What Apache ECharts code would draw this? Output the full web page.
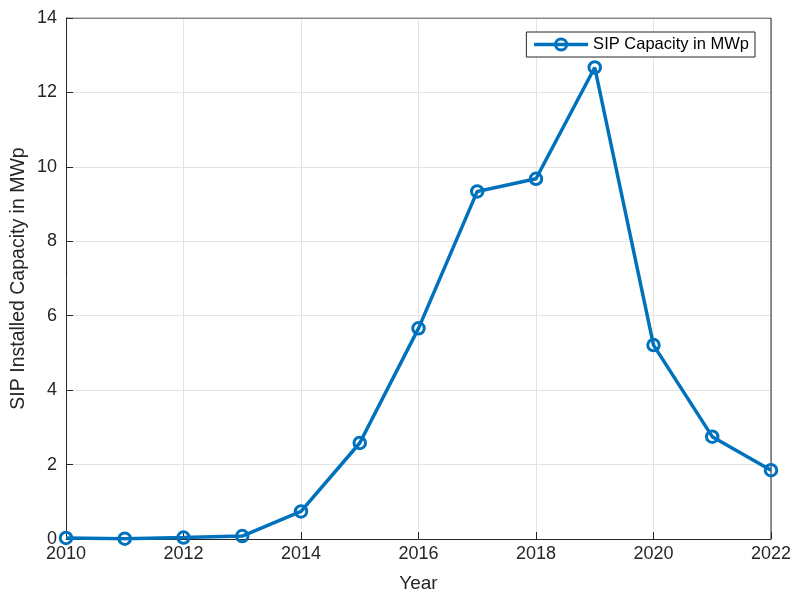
<!DOCTYPE html>
<html>
<head>
<meta charset="utf-8">
<title>SIP Capacity</title>
<script src="https://cdn.jsdelivr.net/npm/echarts@6/dist/echarts.min.js"></script>
<style>
  html, body { margin: 0; padding: 0; background: #fff; }
  #main { width: 792px; height: 596px; }
</style>
</head>
<body>
<div id="main"></div>
<script>
// data
var years = [2010, 2011, 2012, 2013, 2014, 2015, 2016, 2017, 2018, 2019, 2020, 2021, 2022];
var capacity = [0.03, 0.01, 0.04, 0.08, 0.74, 2.58, 5.66, 9.34, 9.68, 12.67, 5.21, 2.75, 1.85];
var seriesName = 'SIP Capacity in MWp';

var blue = '#0072BD';
var font = 'Liberation Sans, Arial, Helvetica, sans-serif';

var chart = echarts.init(document.getElementById('main'));

var points = years.map(function (y, i) { return [y, capacity[i]]; });

chart.setOption({
  animation: false,
  backgroundColor: '#fff',
  grid: { left: 66, right: 21, top: 18, bottom: 57, containLabel: false, outerBoundsMode: 'none' },
  legend: {
    right: 37,
    top: 32,
    orient: 'vertical',
    backgroundColor: '#fff',
    borderColor: '#262626',
    borderWidth: 1,
    borderRadius: 0,
    padding: [4, 6, 4, 6],
    itemWidth: 54,
    itemHeight: 14,
    itemGap: 4,
    lineStyle: { width: 3.5 },
    itemStyle: { borderWidth: 3 },
    textStyle: { fontFamily: font, fontSize: 16.5, color: '#000' },
    data: [seriesName]
  },
  xAxis: {
    type: 'value',
    min: 2010,
    max: 2022,
    interval: 2,
    name: 'Year',
    nameLocation: 'middle',
    nameGap: 35,
    nameMoveOverlap: false,
    nameTextStyle: { fontFamily: font, fontSize: 19, color: '#262626' },
    axisLine: { show: true, onZero: false, lineStyle: { color: '#262626', width: 1 } },
    axisTick: { show: true, inside: true, length: 7, lineStyle: { color: '#262626' } },
    axisLabel: { fontFamily: font, fontSize: 18, color: '#262626', margin: 6, formatter: function (v) { return String(v); } },
    splitLine: { show: true, lineStyle: { color: '#e3e3e3', width: 1 } }
  },
  yAxis: {
    type: 'value',
    min: 0,
    max: 14,
    interval: 2,
    name: 'SIP Installed Capacity in MWp',
    nameLocation: 'middle',
    nameGap: 37,
    nameMoveOverlap: false,
    nameTextStyle: { fontFamily: font, fontSize: 19.5, color: '#262626' },
    axisLine: { show: true, lineStyle: { color: '#262626', width: 1 } },
    axisTick: { show: true, inside: true, length: 7, lineStyle: { color: '#262626' } },
    axisLabel: { fontFamily: font, fontSize: 18, color: '#262626', margin: 9 },
    splitLine: { show: true, lineStyle: { color: '#e3e3e3', width: 1 } }
  },
  series: [
    {
      name: seriesName,
      type: 'line',
      data: points,
      color: blue,
      symbol: 'circle',
      symbolSize: 11.5,
      lineStyle: { color: blue, width: 3.5 },
      itemStyle: { color: 'rgba(255,255,255,0)', borderColor: blue, borderWidth: 3 },
      z: 3
    },
    // top and right border of the box
    {
      type: 'line',
      data: [[2010, 14], [2022, 14], [2022, 0]],
      symbol: 'none',
      silent: true,
      lineStyle: { color: '#262626', width: 1 },
      z: 1
    }
  ]
});
</script>
</body>
</html>
